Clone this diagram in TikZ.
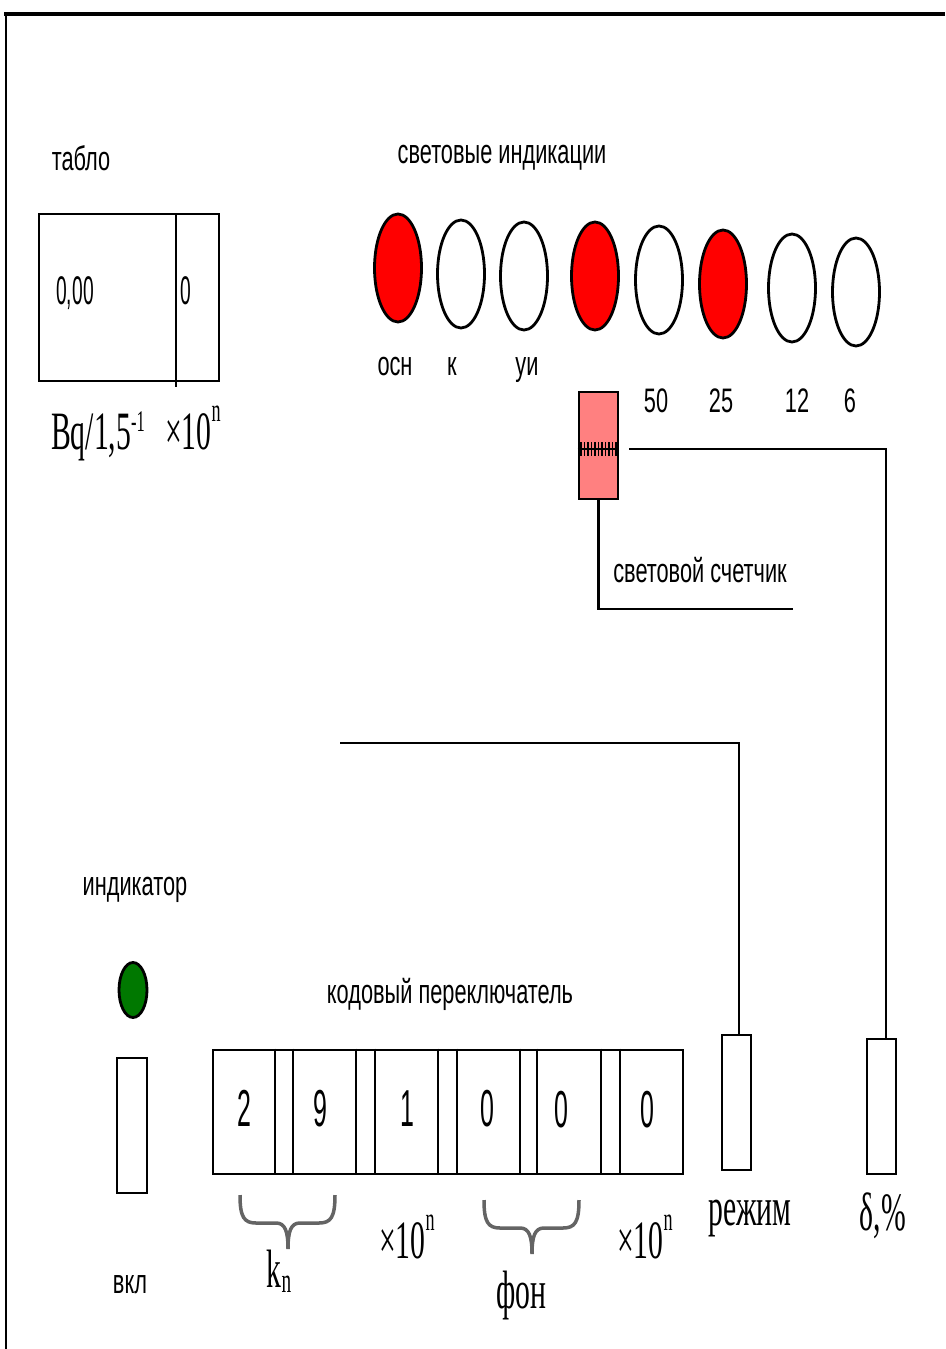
\documentclass[tikz,border=0pt]{standalone}
\usepackage{fontspec}
\setmainfont{Liberation Serif}
\newfontfamily\lblfont[FakeStretch=0.64]{Liberation Sans}
\newfontfamily\digfont[FakeStretch=0.48]{Liberation Sans}
\newfontfamily\serfont[FakeStretch=0.55]{Liberation Serif}
\usetikzlibrary{shapes.geometric}
\definecolor{lampred}{RGB}{255,0,0}
\definecolor{counterpink}{RGB}{255,128,128}
\definecolor{ledgreen}{RGB}{0,120,0}
\definecolor{bracegray}{RGB}{100,100,100}
% raised or lowered small text: #1 shift (pt), #2 size (pt), #3 text
\newcommand\shifted[3]{\raisebox{#1pt}{\fontsize{#2}{#2}\selectfont #3}}

\begin{document}
\begin{tikzpicture}[x=1pt,y=-1pt,line width=2.8pt,
  lbl/.style={font=\lblfont\fontsize{34}{34}\selectfont, inner sep=0, anchor=base},
  ser/.style={font=\serfont\fontsize{54}{54}\selectfont, inner sep=0, anchor=base},
  dig/.style={font=\digfont\fontsize{52}{52}\selectfont, inner sep=0, anchor=base},
  lamp/.style={ellipse, draw, minimum width=47pt, minimum height=108pt, inner sep=0},
  lit/.style={fill=lampred},
  panel/.style={rectangle, draw, inner sep=0},
  brc/.style={draw=bracegray, line width=3.5pt},
]
\useasboundingbox (0,0) rectangle (945,1349);

% outer frame (top and left edges)
\draw[line width=4pt] (4,14) -- (945,14);
\draw (6,13) -- (6,1349);

% display panel
\node[lbl] (tablolbl) at (81,170) {табло};
\node[panel, minimum width=180pt, minimum height=167pt] (tablo) at (129,297.5) {};
\coordinate (tdivtop) at (176,214);
\coordinate (tdivbot) at (176,387);
\draw (tdivtop) -- (tdivbot);
\node[font=\digfont\fontsize{40}{40}\selectfont, inner sep=0, anchor=base] (tval) at (75,304) {0,00};
\node[font=\digfont\fontsize{40}{40}\selectfont, inner sep=0, anchor=base] (texp) at (186,304) {0};
\node[ser] (tunit) at (98,449) {Bq/1,5\shifted{18}{30}{-1}};
\node[ser] (tmul) at (193,449) {×10\shifted{28}{33}{n}};

% indicator lamps
\node[lbl] (lamplbl) at (502,163) {световые индикации};
\node[lamp, lit] (l1) at (398,268) {};
\node[lamp] (l2) at (461,274) {};
\node[lamp] (l3) at (524,276) {};
\node[lamp, lit] (l4) at (595,276) {};
\node[lamp] (l5) at (659,280) {};
\node[lamp, lit] (l6) at (723,284) {};
\node[lamp] (l7) at (792,288) {};
\node[lamp] (l8) at (856,292) {};
\node[lbl] (n1) at (395,375) {осн};
\node[lbl] (n2) at (452,375) {к};
\node[lbl] (n3) at (527,375) {уи};
\node[lbl] (n5) at (656,412) {50};
\node[lbl] (n6) at (721,412) {25};
\node[lbl] (n7) at (797,412) {12};
\node[lbl] (n8) at (850,412) {6};

% light counter
\node[panel, fill=counterpink, minimum width=39pt, minimum height=107pt] (cnt) at (598.5,445.5) {};
\draw[line width=2pt] (cnt.west |- 0,449) -- (cnt.east |- 0,449);
\foreach \x in {581,584.5,...,616} \draw[line width=1.6pt] (\x,442) -- (\x,456);
\coordinate (cout) at (629,449);
\coordinate (cend) at (793,609);
\draw (cnt.south) |- (cend);
\node[lbl] (cntlbl) at (700,582) {световой счетчик};

% power indicator and switch
\node[lbl] (indlbl) at (135,895) {индикатор};
\node[ellipse, draw, fill=ledgreen, minimum width=28pt, minimum height=55pt, inner sep=0] (led) at (133,990) {};
\node[panel, minimum width=30pt, minimum height=135pt] (vkl) at (132,1125.5) {};
\node[lbl] (vkllbl) at (130,1293) {вкл};

% code switch
\node[lbl] (swlbl) at (450,1003) {кодовый переключатель};
\node[panel, minimum width=470pt, minimum height=124pt] (sw) at (448,1112) {};
\foreach \x in {275,293,356,375,438,457,520,537,601,620}
  \draw (sw.north -| \x,0) -- (sw.south -| \x,0);
\node[dig] (d1) at (244,1126) {2};
\node[dig] (d2) at (320,1126) {9};
\node[dig] (d3) at (407,1126) {1};
\node[dig] (d4) at (487,1126) {0};
\node[dig] (d5) at (561,1127) {0};
\node[dig] (d6) at (647,1127) {0};

% braces under the digit groups
\foreach \l/\m/\r/\t in {240/288/335/1195, 484/532/579/1200}
  \draw[brc] (\l,\t) .. controls (\l,\t+22) and (\l+4,\t+28) .. (\l+16,\t+28)
    -- (\m-12,\t+28) .. controls (\m-3,\t+28) and (\m,\t+36) .. (\m,\t+54)
    .. controls (\m,\t+36) and (\m+3,\t+28) .. (\m+12,\t+28)
    -- (\r-16,\t+28) .. controls (\r-4,\t+28) and (\r,\t+22) .. (\r,\t);
\node[ser] (kn) at (279,1287) {k\shifted{-5}{35}{n}};
\node[ser] (mul1) at (407,1258) {×10\shifted{28}{33}{n}};
\node[ser] (fon) at (521,1308) {фон};
\node[ser] (mul2) at (645,1258) {×10\shifted{28}{33}{n}};

% mode and accuracy switches
\node[panel, minimum width=29pt, minimum height=135pt] (mode) at (736.5,1102.5) {};
\node[panel, minimum width=29pt, minimum height=135pt] (delta) at (881.5,1106.5) {};
\node[ser] (modelbl) at (750,1225) {режим};
\node[ser] (deltalbl) at (883,1230) {δ,\%};

% wiring
\coordinate (m0) at (340,743);
\draw (m0) -| ([xshift=2.5pt]mode.north);
\draw (cout) -| ([xshift=4.5pt]delta.north);
\end{tikzpicture}
\end{document}
